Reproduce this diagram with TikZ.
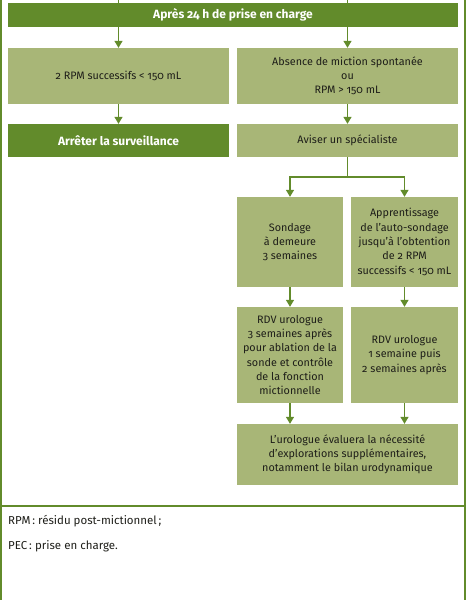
\documentclass[tikz,border=0pt]{standalone}
\usepackage{fontspec}
\setmainfont[Numbers=OldStyle]{Fira Sans}
\usetikzlibrary{arrows.meta}

\definecolor{vert}{RGB}{98,139,43}
\definecolor{vertclair}{RGB}{168,182,119}
\definecolor{texte}{RGB}{30,30,25}

\tikzset{
  boite/.style={fill=vertclair, text=texte, align=center, inner sep=0pt,
    font=\fontsize{10.8}{14.3}\selectfont},
  boitefonce/.style={fill=vert, text=white, align=center, inner sep=0pt,
    font=\bfseries\fontsize{12}{14.3}\selectfont},
  ligne/.style={draw=vert, line width=1.3pt},
  fleche/.style={ligne, ->},
  note/.style={anchor=base west, inner sep=0pt, text=texte,
    font=\fontsize{11.5}{13}\selectfont},
}

\begin{document}
\begin{tikzpicture}[x=1pt, y=-1pt, >={Triangle[length=7pt,width=8pt]}]
            \useasboundingbox (0,0) rectangle (466,600);

            % cadre
            \draw[ligne] (1,0) -- (1,600);
            \draw[ligne] (465,0) -- (465,600);
            \draw[ligne] (1,506) -- (465,506);

            \node[boitefonce, minimum width=450pt, minimum height=24pt] (prise) at (233, 15) {Après 24 h de prise en charge};

            \node[boite, minimum width=221pt, minimum height=56pt] (rpm) at (118.5, 76) {2 RPM successifs < 150 mL};
            \node[boite, minimum width=221pt, minimum height=56pt] (absence) at (347.5, 76) {Absence de miction spontanée\\ou\\RPM > 150 mL};

            \node[boitefonce, minimum width=221pt, minimum height=33pt] (arret) at (118.5, 140.5) {Arrêter la surveillance};
            \node[boite, minimum width=221pt, minimum height=33pt] (aviser) at (347.5, 140.5) {Aviser un spécialiste};

            \node[boite, minimum width=106pt, minimum height=90pt] (sondage) at (290, 242) {Sondage\\à demeure\\3 semaines};
            \node[boite, minimum width=107pt, minimum height=90pt] (auto) at (404.5, 242) {Apprentissage\\de l’auto-sondage\\jusqu’à l’obtention\\de 2 RPM\\successifs < 150 mL};

            \node[boite, minimum width=106pt, minimum height=96pt] (rdvtrois) at (290, 355) {RDV urologue\\3 semaines après\\pour ablation de la\\sonde et contrôle\\de la fonction\\mictionnelle};
            \node[boite, minimum width=107pt, minimum height=96pt] (rdvun) at (404.5, 355) {RDV urologue\\1 semaine puis\\2 semaines après};

            \node[boite, minimum width=221pt, minimum height=61pt] (urologue) at (347.5, 454.5) {L’urologue évaluera la nécessité\\d’explorations supplémentaires,\\notamment le bilan urodynamique};

            \node[note] (rpmnote) at (8, 524) {RPM\,: résidu post-mictionnel\,;};
            \node[note] (pecnote) at (8, 549) {PEC\,: prise en charge.};

            \coordinate (hautg) at (118.5, 0);
            \coordinate (hautd) at (347.5, 0);
            \coordinate (branche) at (347.5, 177);

            \draw[ligne] (hautg) to (hautg |- prise.north);
            \draw[ligne] (hautd) to (hautd |- prise.north);
            \draw[fleche] (prise.south -| rpm) to (rpm);
            \draw[fleche] (prise.south -| absence) to (absence);
            \draw[fleche] (rpm) to (arret);
            \draw[fleche] (absence) to (aviser);
            \draw[ligne] (aviser) to (branche);
            \draw[fleche] (branche) -| (sondage);
            \draw[fleche] (branche) -| (auto);
            \draw[fleche] (sondage) to (rdvtrois);
            \draw[fleche] (auto) to (rdvun);
            \draw[fleche] (rdvtrois) to (rdvtrois |- urologue.north);
            \draw[fleche] (rdvun) to (rdvun |- urologue.north);
        \end{tikzpicture}
\end{document}
